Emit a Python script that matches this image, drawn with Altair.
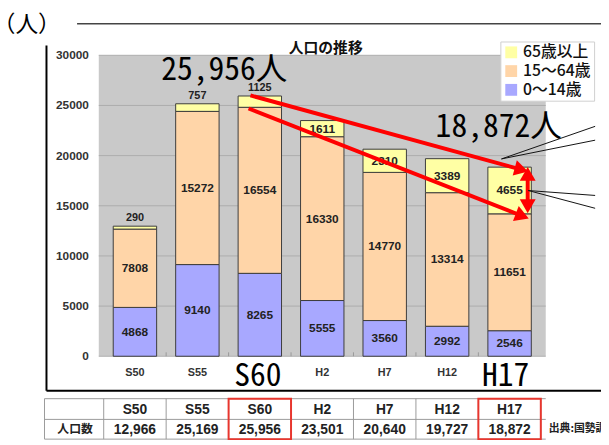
import math
import altair as alt
import pandas as pd

# ---------------- data ----------------
categories = ["S50", "S55", "S60", "H2", "H7", "H12", "H17"]
age_0_14 = [4868, 9140, 8265, 5555, 3560, 2992, 2546]
age_15_64 = [7808, 15272, 16554, 16330, 14770, 13314, 11651]
age_65_plus = [290, 757, 1125, 1611, 2310, 3389, 4655]
totals = [12966, 25169, 25956, 23501, 20640, 19727, 18872]
groups_bottom_up = ["0～14歳", "15～64歳", "65歳以上"]
legend_order = ["65歳以上", "15～64歳", "0～14歳"]
legend_colors = ["#FFFFA4", "#FFD5A8", "#A8A8FF"]
highlight = ["S60", "H17"]
y_ticks = [0, 5000, 10000, 15000, 20000, 25000, 30000]
chart_title = "人口の推移"
unit_label = "（人）"
row_label = "人口数"
source_label = "出典:国勢調査"

# annotation arrows (category index, value)
arrow_from = [(1.85, 26000), (1.82, 24700)]
arrow_to = [(6.31, 18400), (6.32, 13700)]
double_arrow = [(6.29, 18980), (6.29, 14160)]
callouts = [((5.87, 19670), (7.37, 22920)), ((5.87, 19670), (7.37, 21540)),
            ((6.30, 16520), (7.37, 16030)), ((6.30, 16520), (7.37, 14750))]

# ---------------- geometry ----------------
W, H = 453, 305
XDOM = [-0.5, len(categories) - 0.5]
YDOM = [0, 30000]
xs = alt.Scale(domain=XDOM, nice=False, zero=False)
ys = alt.Scale(domain=YDOM, nice=False)


def px(i):
    return (i - XDOM[0]) / (XDOM[1] - XDOM[0]) * W


def py(v):
    return H - (v - YDOM[0]) / (YDOM[1] - YDOM[0]) * H


def inv(x, y):
    return (x / W * (XDOM[1] - XDOM[0]) + XDOM[0],
            (H - y) / H * (YDOM[1] - YDOM[0]) + YDOM[0])


HEAD_SIZE = 260
R = math.sqrt(HEAD_SIZE) / 2


def head(start, tip):
    x0, y0 = px(start[0]), py(start[1])
    x1, y1 = px(tip[0]), py(tip[1])
    d = math.hypot(x1 - x0, y1 - y0)
    ux, uy = (x1 - x0) / d, (y1 - y0) / d
    cx, cy = x1 - ux * R, y1 - uy * R
    ang = math.degrees(math.atan2(uy, ux)) % 360
    ci, cv = inv(cx, cy)
    return ci, cv, ang


# ---------------- tables ----------------
seg_rows = []
vals = {"0～14歳": age_0_14, "15～64歳": age_15_64, "65歳以上": age_65_plus}
for i, c in enumerate(categories):
    lo = 0
    for k, g in enumerate(groups_bottom_up):
        v = vals[g][i]
        seg_rows.append(dict(idx=i, cat=c, group=g, ord=k, lo=lo, hi=lo + v,
                             mid=lo + v / 2, v=v, above=(v < 1500)))
        lo += v
seg = pd.DataFrame(seg_rows)

cat_df = pd.DataFrame({"idx": list(range(len(categories))), "cat": categories,
                       "total": totals,
                       "total_s": [f"{t:,}" for t in totals]})
cat_df["lo"] = cat_df["idx"] - 0.5
cat_df["hi"] = cat_df["idx"] + 0.5
hl_df = cat_df[cat_df["cat"].isin(highlight)].copy()
hl_df["big"] = hl_df["total_s"] + "人"
plain_df = cat_df[~cat_df["cat"].isin(highlight)]

bounds_df = pd.DataFrame({"b": [i - 0.5 for i in range(len(categories) + 1)]})
inner_bounds = pd.DataFrame({"b": [i + 0.5 for i in range(len(categories) - 1)]})
ticks_df = pd.DataFrame({"t": y_ticks})

line_rows = []
head_rows = []
for s, t in zip(arrow_from, arrow_to):
    ci, cv, ang = head(s, t)
    line_rows.append(dict(x1=s[0], y1=s[1], x2=ci, y2=cv))
    head_rows.append(dict(x=ci, y=cv, angle=ang))
a, b = double_arrow
ca, va, anga = head(b, a)
cb, vb, angb = head(a, b)
line_rows.append(dict(x1=ca, y1=va, x2=cb, y2=vb))
head_rows.append(dict(x=ca, y=va, angle=anga))
head_rows.append(dict(x=cb, y=vb, angle=angb))
arrows = pd.DataFrame(line_rows)
heads = pd.DataFrame(head_rows)
callout_df = pd.DataFrame([dict(x1=p[0], y1=p[1], x2=q[0], y2=q[1]) for p, q in callouts])

dummy = pd.DataFrame({"a": [0]})

LATIN = "Liberation Sans"
CJK = "Noto Sans CJK JP"
MONO = "Noto Sans Mono CJK JP, Noto Sans Mono CJK SC, DejaVu Sans Mono, monospace"

X = lambda f: alt.X(f, scale=xs, axis=None)
Y = lambda f: alt.Y(f, scale=ys, axis=None)

# ---------------- layers ----------------
grid = alt.Chart(ticks_df).mark_rule(color="#ADADAD", strokeWidth=1).encode(
    x=alt.value(0), x2=alt.value(W), y=Y("t:Q"))

y_labels = alt.Chart(ticks_df).mark_text(font=LATIN, fontSize=12, fontWeight="bold", color="#333",
                                         align="right", baseline="middle").encode(
    x=alt.value(-10), y=Y("t:Q"), text=alt.Text("t:Q", format="d"))

x_labels = alt.Chart(plain_df).mark_text(font=LATIN, fontSize=11, fontWeight="bold", color="#333",
                                         baseline="middle").encode(
    x=X("idx:Q"), y=alt.value(322), text="cat:N")

bars = alt.Chart(seg).mark_bar(size=44, stroke="#3c3c3c", strokeWidth=1).encode(
    x=X("idx:Q"), y=Y("lo:Q"), y2="hi:Q",
    color=alt.Color("group:N", scale=alt.Scale(domain=legend_order, range=legend_colors),
                    legend=alt.Legend(orient="none", legendX=407, legendY=-14, title=None,
                                      fillColor="white", strokeColor="#cfcfcf", padding=3,
                                      symbolType="square", symbolSize=144, symbolStrokeWidth=0,
                                      labelFont=CJK, labelFontSize=16, labelColor="#111",
                                      labelFontWeight=500, rowPadding=3, labelOffset=4)),
)

tick_marks = alt.Chart(inner_bounds).mark_rule(color="#999", strokeWidth=1).encode(
    x=X("b:Q"), y=alt.value(H - 4), y2=alt.value(H))

in_labels = alt.Chart(seg[~seg["above"]]).mark_text(
    font=LATIN, fontSize=12, fontWeight="bold", color="#222", baseline="middle").encode(
    x=X("idx:Q"), y=Y("mid:Q"), text="v:Q")

top_labels = alt.Chart(seg[seg["above"]]).mark_text(
    font=LATIN, fontSize=11, fontWeight="bold", color="#222", baseline="bottom", dy=-3).encode(
    x=X("idx:Q"), y=Y("hi:Q"), text="v:Q")

arrow_lines = alt.Chart(arrows).mark_rule(color="#FF0000", strokeWidth=4).encode(
    x=X("x1:Q"), y=Y("y1:Q"), x2="x2:Q", y2="y2:Q")

arrow_heads = alt.Chart(heads).mark_point(shape="triangle-right", filled=True, opacity=1,
                                          size=HEAD_SIZE, color="#FF0000").encode(
    x=X("x:Q"), y=Y("y:Q"), angle=alt.Angle("angle:Q", scale=None))

callout_lines = alt.Chart(callout_df).mark_rule(color="#111", strokeWidth=1).encode(
    x=X("x1:Q"), y=Y("y1:Q"), x2="x2:Q", y2="y2:Q")

big_s60 = alt.Chart(hl_df[hl_df["cat"] == highlight[0]]).mark_text(
    font=MONO, fontSize=32, color="#000", baseline="alphabetic", dx=-36, dy=-16).encode(
    x=X("idx:Q"), y=Y("total:Q"), text="big:N")

big_h17 = alt.Chart(hl_df[hl_df["cat"] == highlight[1]]).mark_text(
    font=MONO, fontSize=32, color="#000", baseline="alphabetic", dx=-11, dy=-30).encode(
    x=X("idx:Q"), y=Y("total:Q"), text="big:N")

big_axis_s60 = alt.Chart(hl_df[hl_df["cat"] == highlight[0]]).mark_text(
    font=MONO, fontSize=32, color="#000", baseline="alphabetic", dx=-2).encode(
    x=X("idx:Q"), y=alt.value(335), text="cat:N")
big_axis_h17 = alt.Chart(hl_df[hl_df["cat"] == highlight[1]]).mark_text(
    font=MONO, fontSize=32, color="#000", baseline="alphabetic", dx=-4).encode(
    x=X("idx:Q"), y=alt.value(335), text="cat:N")

title_txt = alt.Chart(dummy).mark_text(font=CJK, fontSize=15, fontWeight="bold", color="#111",
                                       text=chart_title, baseline="middle").encode(
    x=alt.value(230), y=alt.value(-7))

unit_txt = alt.Chart(dummy).mark_text(font=CJK, fontSize=23, color="#000", text=unit_label,
                                      baseline="middle").encode(x=alt.value(-73), y=alt.value(-31))

top_line = alt.Chart(dummy).mark_rule(color="#444", strokeWidth=1.5).encode(
    x=alt.value(-22), x2=alt.value(510), y=alt.value(-32))
frame_left = alt.Chart(dummy).mark_rule(color="#000", strokeWidth=2).encode(
    x=alt.value(-53), y=alt.value(-10), y2=alt.value(340))
frame_bottom = alt.Chart(dummy).mark_rule(color="#000", strokeWidth=2).encode(
    x=alt.value(-53), x2=alt.value(510), y=alt.value(340))

# table
T_TOP, T_MID, T_BOT, T_LEFT = 348, 369, 389, -55
table_h = alt.Chart(pd.DataFrame({"yy": [T_TOP, T_MID, T_BOT]})).mark_rule(
    color="#9a9a9a", strokeWidth=1).encode(
    x=alt.value(T_LEFT), x2=alt.value(W), y=alt.Y("yy:Q", scale=None, axis=None))
table_v = alt.Chart(bounds_df).mark_rule(color="#9a9a9a", strokeWidth=1).encode(
    x=X("b:Q"), y=alt.value(T_TOP), y2=alt.value(T_BOT))
table_vl = alt.Chart(dummy).mark_rule(color="#9a9a9a", strokeWidth=1).encode(
    x=alt.value(T_LEFT), y=alt.value(T_TOP), y2=alt.value(T_BOT))
table_head = alt.Chart(cat_df).mark_text(font=LATIN, fontSize=14, fontWeight="bold", color="#222",
                                         baseline="middle").encode(
    x=X("idx:Q"), y=alt.value((T_TOP + T_MID) / 2 + 1), text="cat:N")
table_vals = alt.Chart(cat_df).mark_text(font=LATIN, fontSize=14, fontWeight="bold", color="#222",
                                         baseline="middle").encode(
    x=X("idx:Q"), y=alt.value((T_MID + T_BOT) / 2 + 1), text="total_s:N")
table_row = alt.Chart(dummy).mark_text(font=CJK, fontSize=12, fontWeight="bold", color="#222",
                                       text=row_label, baseline="middle").encode(
    x=alt.value(T_LEFT + 31), y=alt.value((T_MID + T_BOT) / 2))
table_red = alt.Chart(hl_df).mark_rect(fill=None, fillOpacity=0, stroke="#E8362E", strokeWidth=2).encode(
    x=X("lo:Q"), x2="hi:Q", y=alt.value(T_TOP), y2=alt.value(T_BOT))
source_txt = alt.Chart(dummy).mark_text(font=CJK, fontSize=11, fontWeight="bold", color="#222",
                                        text=source_label, align="left", baseline="middle").encode(
    x=alt.value(W + 3), y=alt.value((T_MID + T_BOT) / 2))

chart = alt.layer(
    grid, y_labels, x_labels, bars, tick_marks, in_labels, top_labels, arrow_lines, arrow_heads,
    callout_lines, big_s60, big_h17, big_axis_s60, big_axis_h17, title_txt, unit_txt, top_line,
    frame_left, frame_bottom, table_h, table_v, table_vl, table_head, table_vals, table_row,
    table_red, source_txt,
).properties(
    width=W, height=H,
    padding={"left": 92, "top": 45, "right": 56, "bottom": 87},
    autosize=alt.AutoSizeParams(type="none"),
    background="white",
).configure_view(fill="#C9C9C9", strokeWidth=0)

chart.save("out.html", embed_options={"renderer": "svg", "actions": False})
